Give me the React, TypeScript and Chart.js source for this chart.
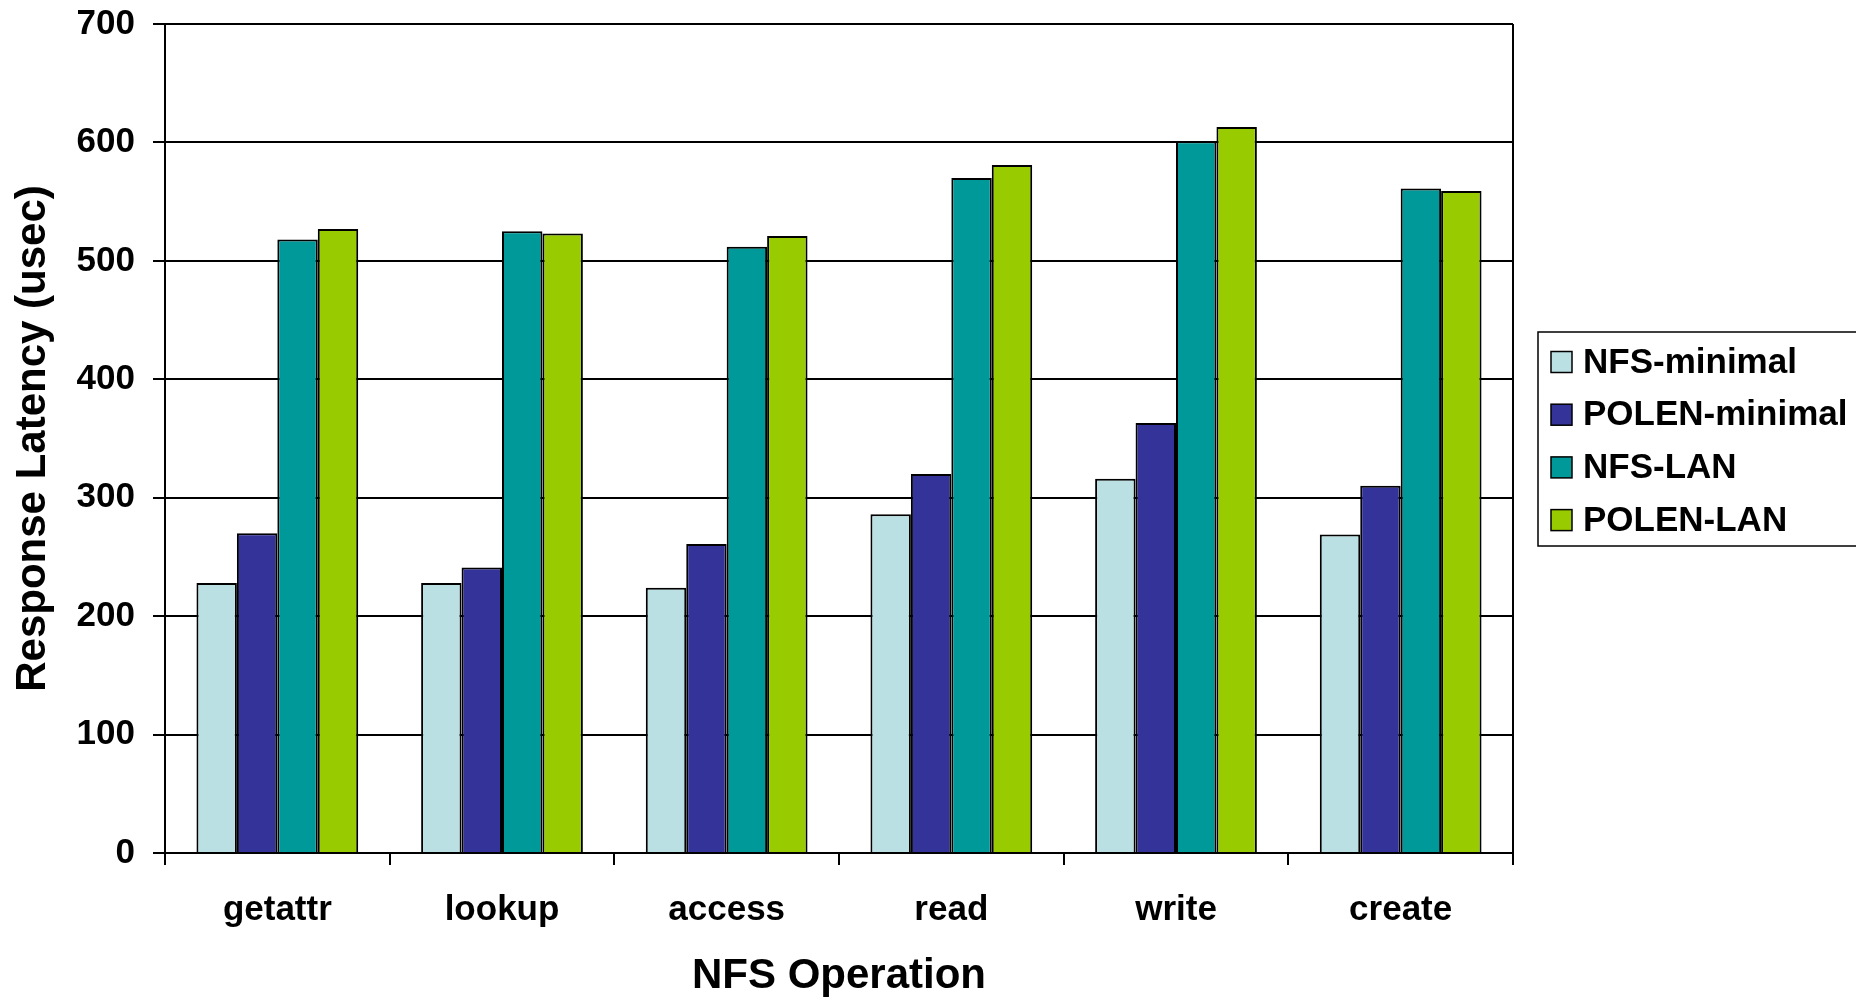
import React, { useEffect, useRef } from "react";
import { Chart, registerables } from "chart.js";

Chart.register(...registerables);

const categories = ["getattr", "lookup", "access", "read", "write", "create"];
const nfsMinimal = [228, 228, 224, 286, 316, 269];
const polenMinimal = [270, 241, 261, 320, 363, 310];
const nfsLan = [518, 525, 512, 570, 601, 561];
const polenLan = [527, 523, 521, 581, 613, 559];
const seriesNames = ["NFS-minimal", "POLEN-minimal", "NFS-LAN", "POLEN-LAN"];
const seriesColors = ["#BBE0E3", "#333399", "#009999", "#99CC00"];
const yTicks = [0, 100, 200, 300, 400, 500, 600, 700];

const FONT = '"Liberation Sans", Arial, sans-serif';

const framePlugin = {
  id: "frame",
  afterDraw(chart: any) {
    const { ctx, chartArea } = chart;
    ctx.save();
    ctx.strokeStyle = "#000";
    ctx.lineWidth = 2;
    ctx.beginPath();
    ctx.moveTo(chartArea.right, chartArea.top);
    ctx.lineTo(chartArea.right, chartArea.bottom);
    ctx.stroke();

    // legend
    const bx = 1538;
    const by = 332;
    const bw = 330;
    const bh = 214;
    ctx.lineWidth = 1.5;
    ctx.strokeRect(bx, by, bw, bh);
    ctx.font = `bold 35px ${FONT}`;
    ctx.textBaseline = "middle";
    ctx.textAlign = "left";
    seriesNames.forEach((name, i) => {
      const cy = 362 + i * 52.7;
      ctx.fillStyle = seriesColors[i];
      ctx.fillRect(1551, cy - 10.5, 21, 21);
      ctx.lineWidth = 1.5;
      ctx.strokeStyle = "#000";
      ctx.strokeRect(1551, cy - 10.5, 21, 21);
      ctx.fillStyle = "#000";
      ctx.fillText(name, 1583, cy + 1);
    });
    ctx.restore();
  },
};

export default function App() {
  const ref = useRef<HTMLCanvasElement>(null);
  useEffect(() => {
    if (!ref.current) return;
    const data = [nfsMinimal, polenMinimal, nfsLan, polenLan];
    const chart = new Chart(ref.current, {
      type: "bar",
      data: {
        labels: categories,
        datasets: seriesNames.map((name, i) => ({
          label: name,
          data: data[i],
          backgroundColor: seriesColors[i],
          borderColor: "#000",
          borderWidth: 2,
          categoryPercentage: 0.72,
          barPercentage: 1.0,
        })),
      },
      options: {
        animation: false,
        responsive: false,
        layout: { padding: { left: 0, right: 343, top: 24, bottom: 0 } },
        plugins: {
          legend: { display: false },
          tooltip: { enabled: false },
        },
        scales: {
          x: {
            grid: {
              display: true,
              offset: true,
              drawOnChartArea: false,
              drawTicks: true,
              tickLength: 12,
              color: "#000",
              lineWidth: 2,
            },
            border: { display: true, color: "#000", width: 2 },
            ticks: {
              color: "#000",
              font: { family: FONT, size: 35, weight: "bold" },
              padding: 24,
            },
            title: {
              display: true,
              text: "NFS Operation",
              color: "#000",
              font: { family: FONT, size: 42, weight: "bold", lineHeight: 1.0 },
              padding: { top: 0, bottom: 0 },
            },
            afterFit(scale: any) {
              scale.height = 997 - 853;
              scale.paddingLeft = 0;
              scale.paddingRight = 0;
            },
          },
          y: {
            min: 0,
            max: 700,
            afterBuildTicks(scale: any) {
              scale.ticks = yTicks.map((v) => ({ value: v }));
            },
            grid: {
              color: "#000",
              lineWidth: 2,
              drawTicks: true,
              tickLength: 12,
            },
            border: { display: true, color: "#000", width: 2 },
            ticks: {
              color: "#000",
              font: { family: FONT, size: 35, weight: "bold" },
              padding: 18,
            },
            title: {
              display: true,
              text: "Response Latency (usec)",
              color: "#000",
              font: { family: FONT, size: 42, weight: "bold", lineHeight: 1.2 },
              padding: { top: 8, bottom: 0 },
            },
            afterFit(scale: any) {
              scale.width = 165;
              scale.paddingTop = 0;
              scale.paddingBottom = 0;
            },
          },
        },
      },
      plugins: [framePlugin],
    });
    return () => chart.destroy();
  }, []);
  return (
    <div style={{ position: "absolute", left: 0, top: 0, width: 1856, height: 997, background: "#fff" }}>
      <canvas ref={ref} width={1856} height={997} style={{ display: "block" }} />
    </div>
  );
}
